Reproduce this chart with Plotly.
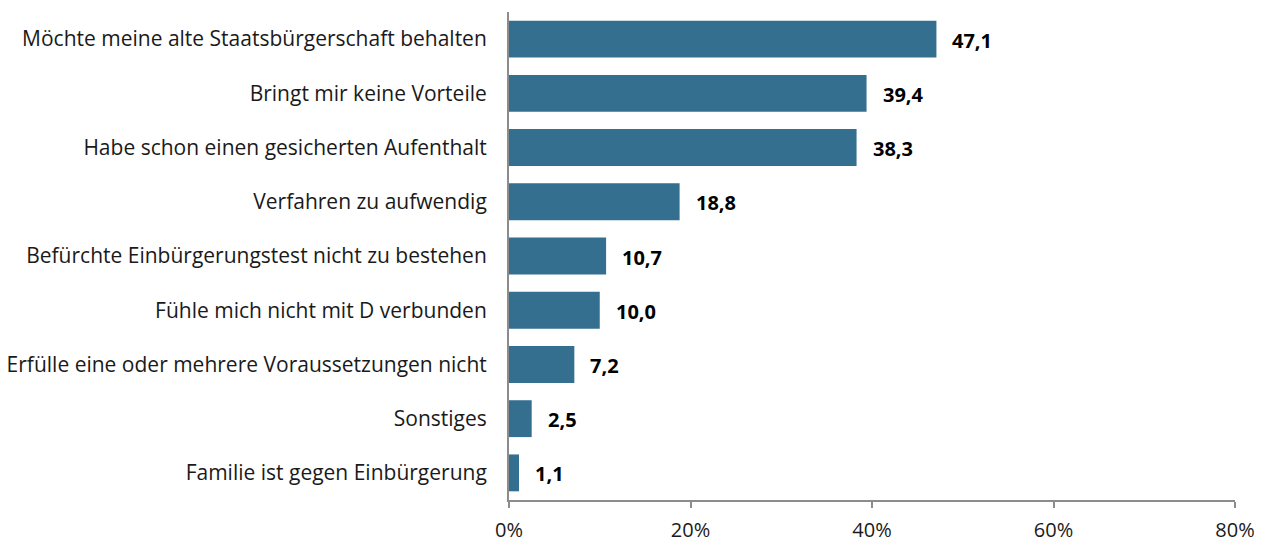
import plotly.graph_objects as go

categories = [
    "Möchte meine alte Staatsbürgerschaft behalten",
    "Bringt mir keine Vorteile",
    "Habe schon einen gesicherten Aufenthalt",
    "Verfahren zu aufwendig",
    "Befürchte Einbürgerungstest nicht zu bestehen",
    "Fühle mich nicht mit D verbunden",
    "Erfülle eine oder mehrere Voraussetzungen nicht",
    "Sonstiges",
    "Familie ist gegen Einbürgerung",
]
values = [47.1, 39.4, 38.3, 18.8, 10.7, 10.0, 7.2, 2.5, 1.1]
value_labels = ["47,1", "39,4", "38,3", "18,8", "10,7", "10,0", "7,2", "2,5", "1,1"]
tick_vals = [0, 20, 40, 60, 80]
tick_text = ["0%", "20%", "40%", "60%", "80%"]

FONT = "'Open Sans', sans-serif"
fig = go.Figure(go.Bar(
    x=values, y=categories, orientation="h",
    marker=dict(color="#346F8F", line=dict(width=0)),
    width=0.68,
    hoverinfo="skip",
))
for v, lab, c in zip(values, value_labels, categories):
    fig.add_annotation(x=v, y=c, text=f"<b>{lab}</b>", showarrow=False,
                       xanchor="left", xshift=14, yshift=-1,
                       font=dict(size=20, color="#000000", family=FONT))

fig.update_layout(
    width=1254, height=534,
    margin=dict(l=501, r=27, t=4, b=42),
    plot_bgcolor="white", paper_bgcolor="white",
    showlegend=False,
    font=dict(family=FONT, size=20, color="#1a1a1a"),
)
fig.update_xaxes(range=[0, 80], tickvals=tick_vals, ticktext=tick_text, automargin=False,
                 showgrid=False, zeroline=False, showline=True, linecolor="#8c8c8c", linewidth=2,
                 ticks="outside", ticklen=6, tickcolor="#8c8c8c", tickwidth=2,
                 ticklabelstandoff=5,
                 tickfont=dict(size=20, color="#1a1a1a"))
fig.update_yaxes(categoryorder="array", categoryarray=categories, automargin=False,
                 range=[8.5, -0.5],
                 showgrid=False, zeroline=False, showline=True, linecolor="#8c8c8c", linewidth=2,
                 ticks="", ticklabelstandoff=16, tickfont=dict(size=21, color="#1a1a1a"))
fig.write_html("out.html")
